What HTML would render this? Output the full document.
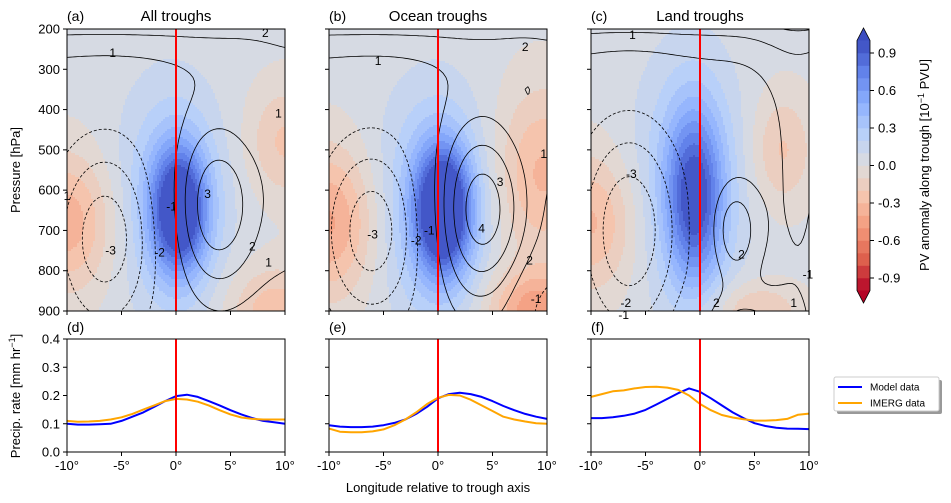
<!DOCTYPE html>
<html><head><meta charset="utf-8"><style>
body{margin:0;background:#fff;}
svg{display:block;font-family:"Liberation Sans",sans-serif;}
</style></head><body>
<svg id="c" width="951" height="503" viewBox="0 0 951 503" xmlns="http://www.w3.org/2000/svg"></svg>
<script>
// ---------- data ----------
const panelTitles = ["All troughs","Ocean troughs","Land troughs"];
const topLetters = ["(a)","(b)","(c)"];
const botLetters = ["(d)","(e)","(f)"];
const pressureTicks = [200,300,400,500,600,700,800,900];
const lonTicks = [-10,-5,0,5,10];
const lonTickLabels = ["-10°","-5°","0°","5°","10°"];
const precipTicks = [0.0,0.1,0.2,0.3,0.4];
const cbarTicks = [0.9,0.6,0.3,0.0,-0.3,-0.6,-0.9];
const lonGrid = [-10,-9,-8,-7,-6,-5,-4,-3,-2,-1,0,1,2,3,4,5,6,7,8,9,10];
const modelD = [.10,.097,.097,.098,.10,.11,.125,.14,.16,.18,.198,.203,.195,.18,.165,.148,.133,.12,.11,.105,.10];
const imergD = [.11,.107,.108,.11,.115,.123,.135,.15,.165,.18,.188,.186,.178,.165,.148,.133,.122,.117,.115,.115,.115];
const modelE = [.095,.09,.088,.088,.09,.095,.103,.115,.135,.16,.19,.205,.21,.205,.195,.18,.163,.148,.135,.125,.117];
const imergE = [.083,.072,.07,.07,.073,.08,.095,.115,.14,.17,.192,.202,.2,.185,.165,.145,.125,.115,.108,.102,.10];
const modelF = [.12,.12,.123,.128,.136,.149,.168,.188,.208,.225,.213,.19,.165,.14,.12,.102,.092,.086,.083,.082,.081];
const imergF = [.195,.205,.215,.218,.225,.23,.231,.228,.22,.2,.17,.148,.131,.122,.116,.111,.111,.113,.117,.132,.136];
// PV anomaly blobs: [amplitude, lon, p, sigmaLon, sigmaP]
const pvA = [[1.0,0.3,650,1.8,110],[0.3,-0.5,620,3.5,200],[-0.4,-10,680,3,120],[-0.25,10,480,2.5,100],[-0.3,9,900,3,80]];
const pvB = [[1.1,0.5,650,1.8,110],[0.35,-0.5,640,3.5,200],[-0.45,-10,680,3,130],[-0.35,9.5,560,3,150],[-0.5,9,900,3,70]];
const pvC = [[0.75,-0.5,620,1.8,150],[0.3,-1,580,3.5,220],[-0.35,-10,680,3,120],[-0.25,7.5,500,2,100],[-0.25,5,900,3,50]];
// black contour field blobs
const cfA = [[-3.6,-6.5,720,3.5,180],[3.8,3.8,640,3,160],[1.2,11,560,2.5,260]];
const cfB = [[-3.6,-6,700,3.5,170],[4.6,4,650,3.2,170],[-1.8,10.5,900,2.5,90],[0.9,11,420,1.5,120]];
const cfC = [[-3.8,-6.5,700,3.5,200],[2.7,3.2,700,1.6,90],[2.6,4,960,3,70],[1.1,9,560,2.5,380]];
const contourLevels = [-3,-2,-1,1,2,3,4];
// contour labels [lon, p, text]
const labA = [[-5.8,260,"1"],[8.2,210,"2"],[9.4,410,"1"],[2.9,610,"3"],[-0.4,640,"-1"],[-10,615,"1"],[-6,750,"-3"],[-1.5,755,"-2"],[7,740,"2"],[8.5,780,"1"]];
const labB = [[-5.5,280,"1"],[8,245,"2"],[9.7,510,"1"],[5.7,580,"3"],[4,695,"4"],[-0.8,700,"-1"],[-2,725,"-2"],[-6,710,"-3"],[8.4,775,"2"],[9,870,"-1"]];
const labC = [[-6.2,215,"1"],[-6.3,560,"-3"],[3.8,760,"2"],[-6.8,880,"-2"],[1.5,880,"2"],[8.6,880,"1"],[9.9,810,"-1"],[-7,910,"-1"]];

// ---------- helpers ----------
const svg = document.getElementById('c');
const NS = "http://www.w3.org/2000/svg";
function mk(tag, attrs, parent){const e=document.createElementNS(NS,tag);for(const k in attrs)e.setAttribute(k,attrs[k]);(parent||svg).appendChild(e);return e;}
function txt(s, attrs, parent){const e=mk('text',attrs,parent);e.textContent=s;return e;}
const cw=[[0,59,76,192],[.125,98,130,234],[.25,141,176,254],[.375,184,208,249],[.5,221,221,221],[.625,245,196,173],[.75,244,154,123],[.875,222,96,77],[1,180,4,38]];
function coolwarm(t){t=Math.max(0,Math.min(1,t));for(let i=1;i<cw.length;i++){if(t<=cw[i][0]){const a=cw[i-1],b=cw[i],f=(t-a[0])/(b[0]-a[0]);return `rgb(${Math.round(a[1]+f*(b[1]-a[1]))},${Math.round(a[2]+f*(b[2]-a[2]))},${Math.round(a[3]+f*(b[3]-a[3]))})`;}}return 'rgb(180,4,38)';}
function bandColor(b){return coolwarm((1-(b+0.5)/10)/2);}
function gsum(blobs, lon, p){let s=0;for(const g of blobs){const dx=(lon-g[1])/g[3],dy=(p-g[2])/g[4];s+=g[0]*Math.exp(-0.5*(dx*dx+dy*dy));}return s;}

const topX0=[67,329,591], W=218, TY0=29, TY1=311, BY0=339, BY1=452;
const X=(i,lon)=>topX0[i]+(lon+10)/20*W;
const Yp=p=>TY0+(p-200)/700*(TY1-TY0);
const Yb=v=>BY1-v/0.4*(BY1-BY0);

const pvSets=[pvA,pvB,pvC], cfSets=[cfA,cfB,cfC], labSets=[labA,labB,labC];
const modelSets=[modelD,modelE,modelF], imergSets=[imergD,imergE,imergF];

function contourPaths(field, nx, ny, lvl, toXY){
  const adj={}, pts={};
  const val=(i,j)=>field[j*nx+i];
  function addPt(key,x,y){pts[key]=[x,y];}
  function link(a,b){(adj[a]=adj[a]||[]).push(b);(adj[b]=adj[b]||[]).push(a);}
  for(let j=0;j<ny-1;j++)for(let i=0;i<nx-1;i++){
    const c=[[i,j],[i+1,j],[i+1,j+1],[i,j+1]];
    const keys=["h"+i+","+j,"v"+(i+1)+","+j,"h"+i+","+(j+1),"v"+i+","+j];
    const cr=[];
    for(let e=0;e<4;e++){
      const a=c[e],b=c[(e+1)%4];const va=val(a[0],a[1]),vb=val(b[0],b[1]);
      if((va<lvl)!==(vb<lvl)){const f=(lvl-va)/(vb-va);addPt(keys[e],a[0]+f*(b[0]-a[0]),a[1]+f*(b[1]-a[1]));cr.push(keys[e]);}
    }
    if(cr.length===2)link(cr[0],cr[1]);
    else if(cr.length===4){link(cr[0],cr[1]);link(cr[2],cr[3]);}
  }
  const used={};let d="";
  const keys=Object.keys(adj);
  const order=keys.filter(k=>adj[k].length===1).concat(keys);
  for(const start of order){
    if(used[start])continue;
    let cur=start,prev=null;used[cur]=1;
    let p=toXY(pts[cur]);d+=`M${p[0].toFixed(1)} ${p[1].toFixed(1)}`;
    while(true){
      const nb=(adj[cur]||[]).find(n=>n!==prev&&!used[n]);
      if(!nb){const back=(adj[cur]||[]).find(n=>n===start&&n!==prev);if(back&&prev!==null&&cur!==start){p=toXY(pts[start]);d+=`L${p[0].toFixed(1)} ${p[1].toFixed(1)}`;}break;}
      used[nb]=1;prev=cur;cur=nb;p=toXY(pts[cur]);d+=`L${p[0].toFixed(1)} ${p[1].toFixed(1)}`;
    }
  }
  return d;
}

// ---------- top panels ----------
for(let i=0;i<3;i++){
  const g=mk('g',{});
  
  
  const cell=2;
  const cols=Math.ceil(W/cell), rows=Math.ceil((TY1-TY0)/cell);
  const heat=mk('g',{'shape-rendering':'crispEdges'},g);
  
  
  for(let r=0;r<rows;r++){
    const py=TY0+r*cell, p=200+(r+0.5)*cell/(TY1-TY0)*700;
    let runStart=0, runBand=null;
    for(let cI=0;cI<=cols;cI++){
      let band=null;
      if(cI<cols){const lon=-10+(cI+0.5)*cell/W*20;const v=0.03+gsum(pvSets[i],lon,p);band=Math.max(-10,Math.min(9,Math.floor(v*10)));}
      if(band!==runBand){
        if(runBand!==null){const rc=mk('rect',{x:topX0[i]+runStart*cell,y:py,width:Math.min((cI-runStart)*cell,W-runStart*cell),height:Math.min(cell,TY1-py),fill:bandColor(runBand)},heat);
          
          }
        runStart=cI;runBand=band;
      }
    }
  }
  // contours
  const nx=81, ny=71, field=[];
  for(let j=0;j<ny;j++)for(let k=0;k<nx;k++){const lon=-10+k*0.25,p=200+j*10;field.push(2.4*Math.exp(-(p-200)/90)+gsum(cfSets[i],lon,p));}
  const toXY=pt=>[X(i,-10+pt[0]*0.25),Yp(200+pt[1]*10)];
  for(const lvl of contourLevels){
    const d=contourPaths(field,nx,ny,lvl,toXY);
    if(!d)continue;
    const pa=mk('path',{d:d,fill:'none',stroke:'#000','stroke-width':0.8,'stroke-dasharray':lvl<0?'3,2':'none'},g);
    
    
  }
  for(const L of labSets[i]){
    const t=txt(L[2],{x:X(i,L[0]),y:Yp(L[1])+4,'font-size':12,'text-anchor':'middle',fill:'#000'},g);
    
    
  }
  const rl=mk('line',{x1:X(i,0),x2:X(i,0),y1:TY0,y2:TY1,stroke:'#ff0000','stroke-width':2},g);
  
  
  const fr=mk('rect',{x:topX0[i],y:TY0,width:W,height:TY1-TY0,fill:'none',stroke:'#000','stroke-width':1},g);
  
  
  for(const p of pressureTicks){
    mk('line',{x1:topX0[i]-4,x2:topX0[i],y1:Yp(p),y2:Yp(p),stroke:'#000'},g);
    if(i===0){const t=txt(String(p),{x:topX0[i]-7,y:Yp(p)+4.5,'font-size':13,'text-anchor':'end'},g);
      
      }
  }
  for(const l of lonTicks)mk('line',{x1:X(i,l),x2:X(i,l),y1:TY1,y2:TY1+4,stroke:'#000'},g);
  const lt=txt(topLetters[i],{x:topX0[i],y:21,'font-size':14},g);
  
  
  const tt=txt(panelTitles[i],{x:topX0[i]+W/2,y:21,'font-size':15,'text-anchor':'middle'},g);
  
  
}

// ---------- bottom panels ----------
for(let i=0;i<3;i++){
  const g=mk('g',{});
  
  
  const mkLine=(vals,color,name)=>{
    const d=vals.map((v,k)=>(k?'L':'M')+X(i,lonGrid[k]).toFixed(1)+' '+Yb(v).toFixed(1)).join('');
    const pa=mk('path',{d:d,fill:'none',stroke:color,'stroke-width':2,'stroke-linejoin':'round'},g);
    
    
  };
  mkLine(modelSets[i],'#0000ff','model-line');
  mkLine(imergSets[i],'#ffa500','imerg-line');
  const rl=mk('line',{x1:X(i,0),x2:X(i,0),y1:BY0,y2:BY1,stroke:'#ff0000','stroke-width':2},g);
  
  
  const fr=mk('rect',{x:topX0[i],y:BY0,width:W,height:BY1-BY0,fill:'none',stroke:'#000','stroke-width':1},g);
  
  
  for(const v of precipTicks){
    mk('line',{x1:topX0[i]-4,x2:topX0[i],y1:Yb(v),y2:Yb(v),stroke:'#000'},g);
    if(i===0){const t=txt(v.toFixed(1),{x:topX0[i]-7,y:Yb(v)+4.5,'font-size':13,'text-anchor':'end'},g);
      
      }
  }
  lonTicks.forEach((l,k)=>{
    mk('line',{x1:X(i,l),x2:X(i,l),y1:BY1,y2:BY1+4,stroke:'#000'},g);
    const t=txt(lonTickLabels[k],{x:X(i,l),y:BY1+18,'font-size':13,'text-anchor':'middle'},g);
    
    
  });
  const lt=txt(botLetters[i],{x:topX0[i],y:332,'font-size':14},g);
  
  
}

// ---------- axis titles ----------
let t=txt('Pressure [hPa]',{x:0,y:0,'font-size':13,'text-anchor':'middle',transform:'translate(20,170) rotate(-90)'});


t=mk('text',{x:0,y:0,'font-size':13,'text-anchor':'middle',transform:'translate(20,396) rotate(-90)'});
t.innerHTML='Precip. rate [mm hr<tspan dy="-5" font-size="9">−1</tspan><tspan dy="5">]</tspan>';


t=txt('Longitude relative to trough axis',{x:438,y:492,'font-size':13,'text-anchor':'middle'});



// ---------- colorbar ----------
const cb=mk('g',{});


const CBX=857, CBW=13, CBT=40.5, CBB=290.5;
const cbY=v=>CBT+(1-v)/2*(CBB-CBT);
for(let b=-10;b<10;b++){
  const r=mk('rect',{x:CBX,y:cbY((b+1)/10),width:CBW,height:(CBB-CBT)/20+0.3,fill:bandColor(b)},cb);
  
  
}
mk('path',{d:`M${CBX} ${CBT}L${CBX+CBW/2} 28L${CBX+CBW} ${CBT}Z`,fill:coolwarm(0),stroke:'none'},cb);
mk('path',{d:`M${CBX} ${CBB}L${CBX+CBW/2} 303L${CBX+CBW} ${CBB}Z`,fill:coolwarm(1),stroke:'none'},cb);
mk('path',{d:`M${CBX} ${CBT}L${CBX+CBW/2} 28L${CBX+CBW} ${CBT}L${CBX+CBW} ${CBB}L${CBX+CBW/2} 303L${CBX} ${CBB}Z`,fill:'none',stroke:'#000','stroke-width':0.8},cb);
for(const v of cbarTicks){
  mk('line',{x1:CBX+CBW,x2:CBX+CBW+4,y1:cbY(v),y2:cbY(v),stroke:'#000'},cb);
  const tl=txt(v.toFixed(1),{x:CBX+CBW+8,y:cbY(v)+4.5,'font-size':13},cb);
  
  
}
t=mk('text',{x:0,y:0,'font-size':13,'text-anchor':'middle',transform:'translate(929,165) rotate(-90)'},cb);
t.innerHTML='PV anomaly along trough [10<tspan dy="-5" font-size="9">−1</tspan><tspan dy="5"> PVU]</tspan>';



// ---------- legend ----------
const lg=mk('g',{});


mk('rect',{x:837,y:380,width:105,height:34,rx:2,fill:'#999'},lg);
mk('rect',{x:834,y:377,width:105,height:34,rx:2,fill:'#fff',stroke:'#ccc'},lg);
mk('line',{x1:838,x2:862,y1:387,y2:387,stroke:'#0000ff','stroke-width':2},lg);
mk('line',{x1:838,x2:862,y1:403,y2:403,stroke:'#ffa500','stroke-width':2},lg);
let le=txt('Model data',{x:870,y:390.5,'font-size':10},lg);


le=txt('IMERG data',{x:870,y:406.5,'font-size':10},lg);


</script>
</body></html>
